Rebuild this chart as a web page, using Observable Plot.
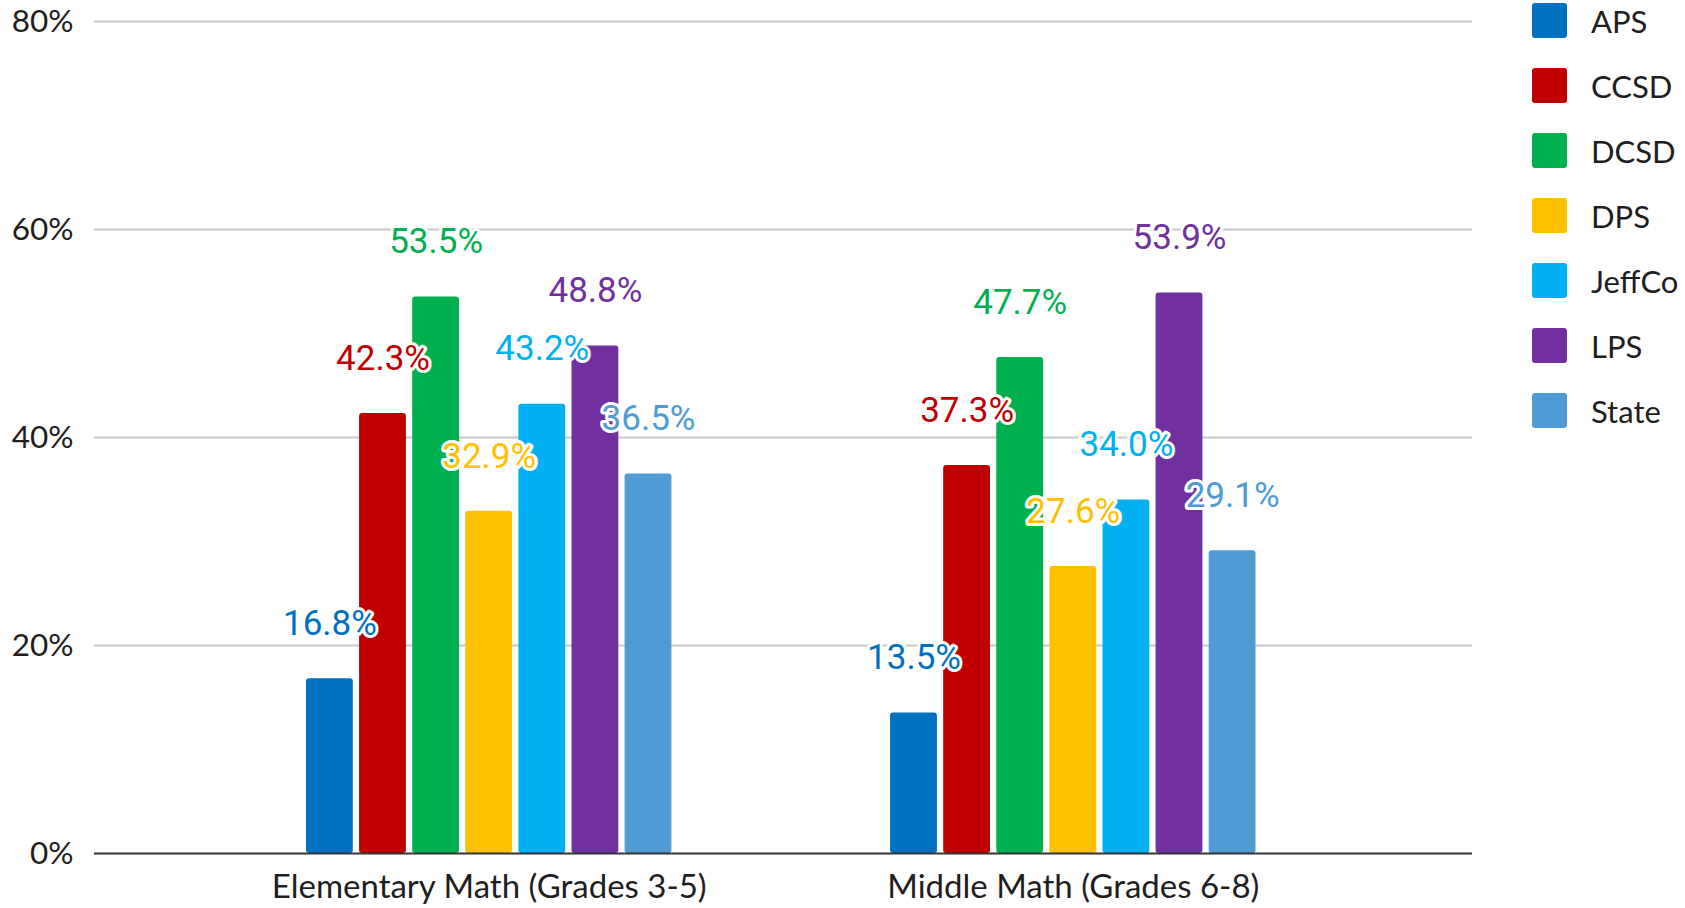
<!DOCTYPE html>
<html>
<head>
<meta charset="utf-8">
<script src="https://cdn.jsdelivr.net/npm/d3@7"></script>
<script src="https://cdn.jsdelivr.net/npm/@observablehq/plot@0.6"></script>
<style>
  body { margin: 0; background: #fff; }
  #wrap { position: relative; width: 1685px; height: 908px; }
  #legend { position: absolute; left: 1532px; top: 3px; }
  #legend .lg-swatches { margin: 0 !important; font-family: Lato, sans-serif !important; font-size: 31px !important; color: #1e1e1e !important; }
  #legend .lg-swatch { display: flex; align-items: center; height: 35px; margin: 0 0 30px 0 !important; padding: 0 !important; }
  #legend .lg-swatch svg { margin-right: 24px !important; flex-shrink: 0; }
  #legend .lg-swatch svg rect { rx: 3px; ry: 3px; }
</style>
</head>
<body>
<div id="wrap"><div id="chart"></div><div id="legend"></div></div>
<script>
const groups = ["Elementary Math (Grades 3-5)", "Middle Math (Grades 6-8)"];
const districts = ["APS", "CCSD", "DCSD", "DPS", "JeffCo", "LPS", "State"];
const colors = ["#0070C0", "#C00000", "#00B050", "#FFC000", "#00B0F0", "#7030A0", "#4E9BD5"];
const elementary = [16.8, 42.3, 53.5, 32.9, 43.2, 48.8, 36.5];
const middle = [13.5, 37.3, 47.7, 27.6, 34.0, 53.9, 29.1];
const yTicks = [0, 20, 40, 60, 80];
const gapKeys = ["gap1", "gap2", "gap3", "gap4"];

const seriesByGroup = [elementary, middle];
const data = [];
groups.forEach((g, gi) => {
  districts.forEach((d, di) => {
    data.push({group: g, district: d, key: g + "|" + d, value: seriesByGroup[gi][di]});
  });
});
const xDomain = [
  ...districts.map(d => groups[0] + "|" + d),
  ...gapKeys,
  ...districts.map(d => groups[1] + "|" + d)
];
const midDistrict = districts[Math.floor(districts.length / 2)];
const groupTicks = groups.map(g => g + "|" + midDistrict);

const chart = Plot.plot({
  width: 1685,
  height: 908,
  marginLeft: 94,
  marginRight: 217.5,
  marginTop: 21,
  marginBottom: 55,
  style: {fontFamily: "Lato, sans-serif", fontSize: "31.5px", color: "#1e1e1e", background: "#fff"},
  x: {
    type: "band",
    domain: xDomain,
    paddingInner: 0.118,
    paddingOuter: 3.992,
    round: false,
    ticks: groupTicks,
    tickFormat: k => k.split("|")[0],
    tickSize: 0,
    tickPadding: 21,
    label: null
  },
  y: {
    domain: [0, 80],
    ticks: yTicks,
    tickFormat: d => d + "%",
    tickSize: 0,
    tickPadding: 21,
    label: null
  },
  color: {domain: districts, range: colors},
  marks: [
    Plot.ruleY(yTicks.filter(t => t > 0), {stroke: "#c8c8c8", strokeWidth: 2, insetRight: -4.5}),
    Plot.barY(data, {x: "key", y: "value", fill: "district", rx: 3}),
    Plot.ruleY([0], {stroke: "#333", strokeWidth: 2, insetRight: -4.5}),
    Plot.text(data, {
      x: "key", y: "value", text: d => d.value.toFixed(1) + "%",
      fill: "district", stroke: "white", strokeWidth: 6, paintOrder: "stroke",
      fontFamily: "Roboto, sans-serif", fontSize: 35, dy: -55
    })
  ]
});
chart.querySelectorAll("g[aria-label='x-axis'] text, g[aria-label='x-axis tick label'] text").forEach(t => t.style.fontSize = "33px");
document.getElementById("chart").appendChild(chart);

const legend = Plot.legend({
  color: {domain: districts, range: colors},
  legend: "swatches",
  columns: 1,
  swatchSize: 35,
  className: "lg"
});
document.getElementById("legend").appendChild(legend);
</script>
</body>
</html>
